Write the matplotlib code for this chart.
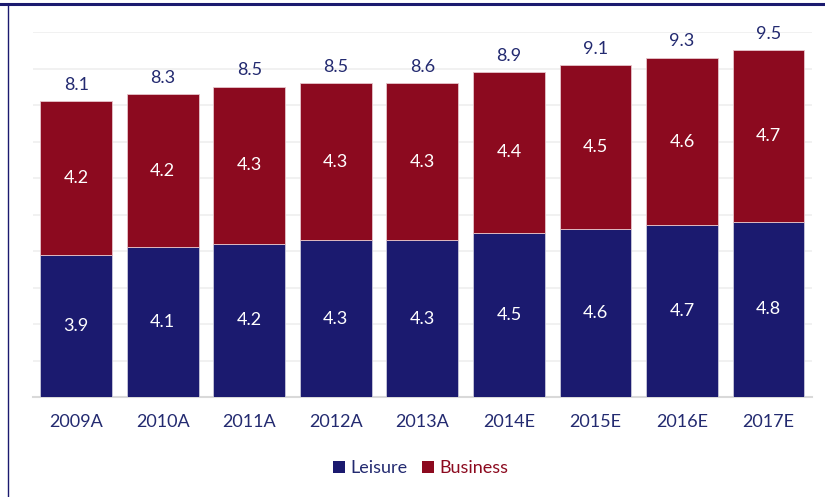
import matplotlib
matplotlib.use("Agg")
import matplotlib.pyplot as plt
from matplotlib.lines import Line2D
from matplotlib.patches import Patch

# data (millions of visitors)
years = ["2009A", "2010A", "2011A", "2012A", "2013A", "2014E", "2015E", "2016E", "2017E"]
leisure = [3.9, 4.1, 4.2, 4.3, 4.3, 4.5, 4.6, 4.7, 4.8]
business = [4.2, 4.2, 4.3, 4.3, 4.3, 4.4, 4.5, 4.6, 4.7]
totals = [8.1, 8.3, 8.5, 8.5, 8.6, 8.9, 9.1, 9.3, 9.5]

NAVY = "#1b1a6f"
RED = "#8c0a1f"
TEXT_NAVY = "#232a70"

plt.rcParams["font.family"] = ["Lato", "DejaVu Sans"]

fig = plt.figure(figsize=(8.25, 4.97), dpi=100)
ax = fig.add_axes([0.040, 0.2012, 0.944, 0.7344])

x = list(range(len(years)))
width = 0.83
ax.bar(x, leisure, width, color=NAVY, edgecolor="#c9c9dc", linewidth=0.6, zorder=3)
ax.bar(x, business, width, bottom=leisure, color=RED, edgecolor="#e6c5cb",
       linewidth=0.6, zorder=3)

# segment labels
for i in x:
    ax.text(i, leisure[i] / 2, f"{leisure[i]:.1f}", ha="center", va="center",
            color="white", fontsize=13, zorder=4)
    ax.text(i, leisure[i] + business[i] / 2, f"{business[i]:.1f}", ha="center",
            va="center", color="white", fontsize=13, zorder=4)
    ax.annotate(f"{totals[i]:.1f}", (i, leisure[i] + business[i]), xytext=(0, 6),
                textcoords="offset points", ha="center", va="bottom",
                color=TEXT_NAVY, fontsize=13, annotation_clip=False)

ax.set_xlim(-0.5, len(years) - 0.5)
ax.set_ylim(0, 10)
ax.set_yticks(range(0, 11))
ax.set_yticklabels([])
ax.tick_params(axis="y", length=0)
ax.tick_params(axis="x", length=0, pad=12, labelsize=13, labelcolor=TEXT_NAVY)
ax.set_xticks(x)
ax.set_xticklabels(years)
ax.grid(axis="y", color="#efefef", linewidth=1.2, zorder=0)
for side in ["top", "right", "left"]:
    ax.spines[side].set_visible(False)
ax.spines["bottom"].set_color("#d9d9d9")
ax.spines["bottom"].set_linewidth(1.5)

handles = [Patch(facecolor=NAVY), Patch(facecolor=RED)]
leg = fig.legend(handles, ["Leisure", "Business"], loc="center", bbox_to_anchor=(0.51, 0.058),
                 ncol=2, frameon=False, fontsize=13, handlelength=0.65, handleheight=0.65,
                 handletextpad=0.3, columnspacing=0.8)
for t, c in zip(leg.get_texts(), [TEXT_NAVY, RED]):
    t.set_color(c)

# surrounding frame lines
fig.add_artist(Line2D([0, 1], [0.992, 0.992], transform=fig.transFigure, color=NAVY, linewidth=2.2))
fig.add_artist(Line2D([0.0097, 0.0097], [0, 0.992], transform=fig.transFigure, color=NAVY, linewidth=1))

fig.savefig("out.png", dpi=100)
